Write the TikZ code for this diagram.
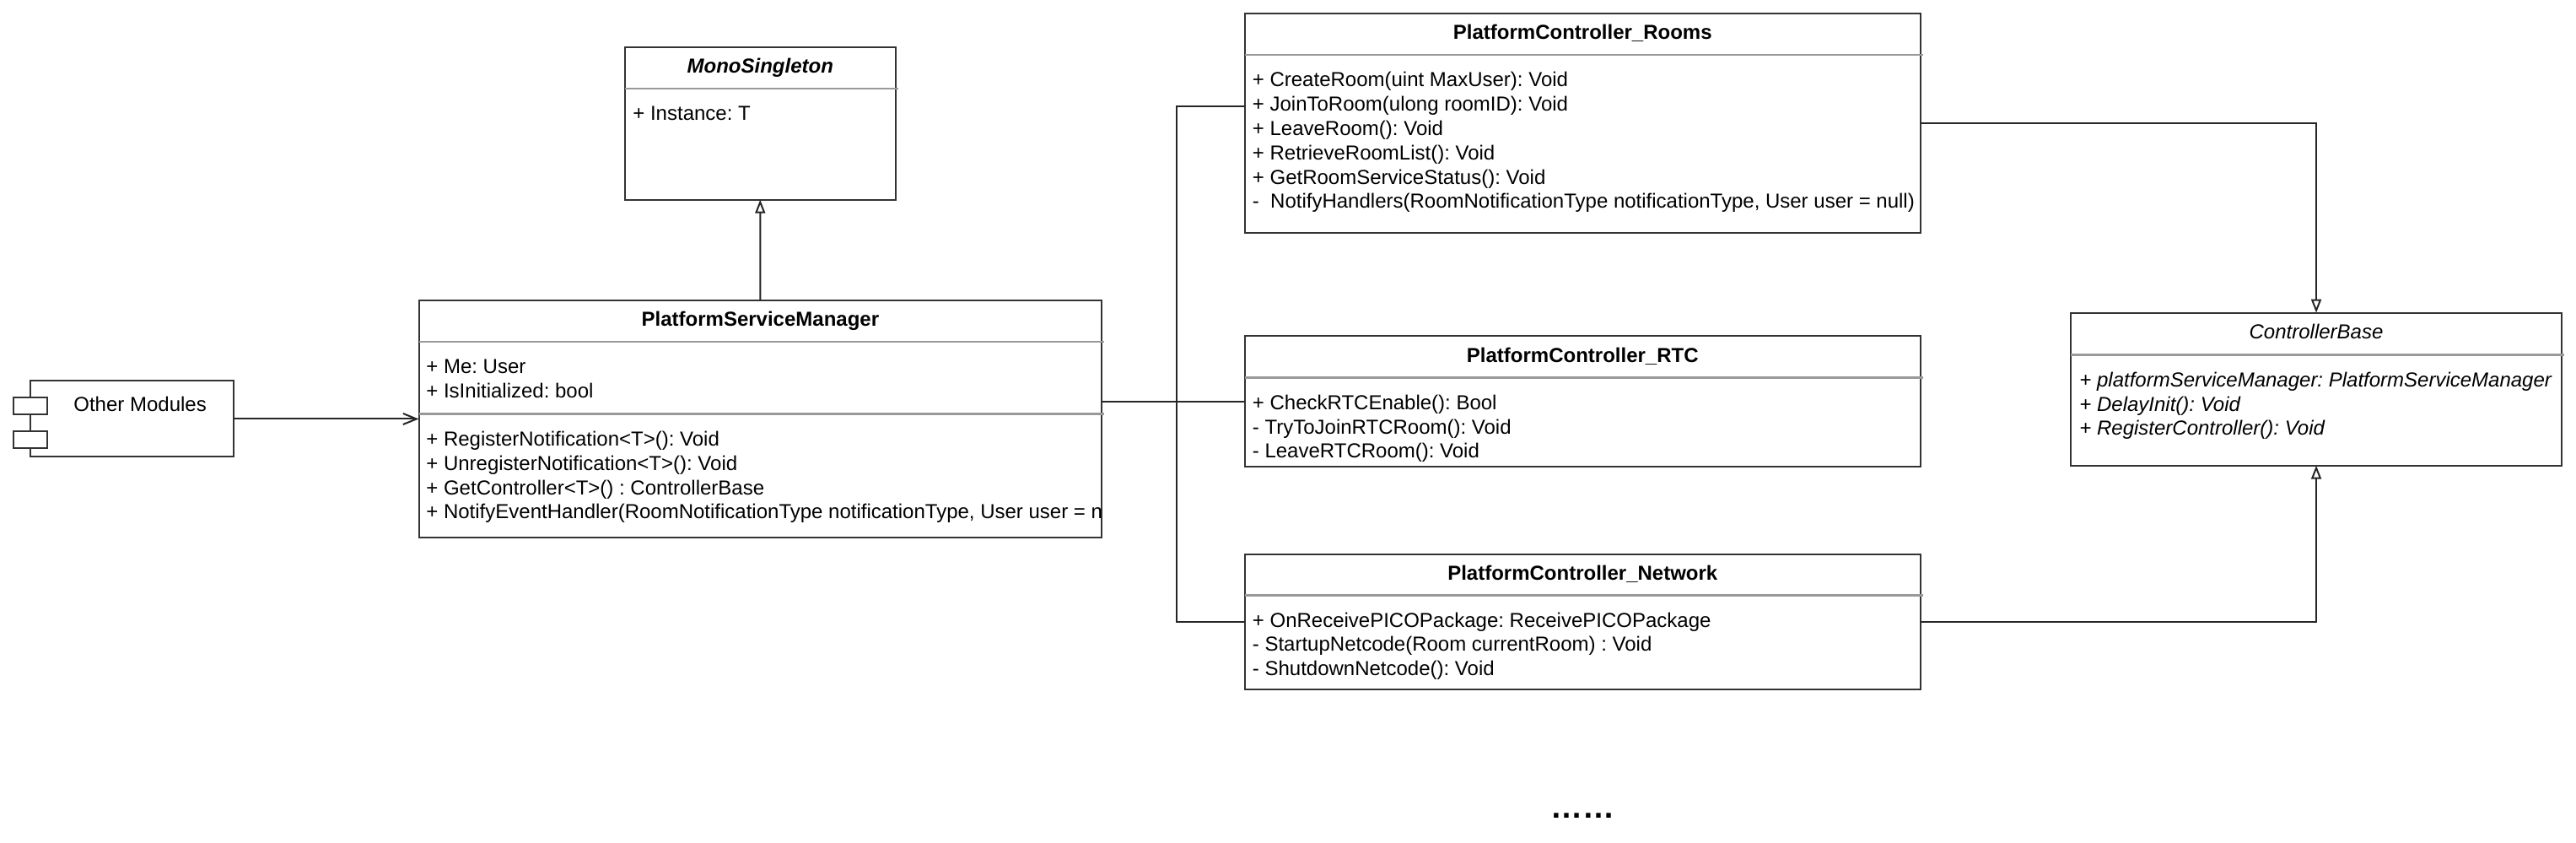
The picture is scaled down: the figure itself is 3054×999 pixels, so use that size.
\documentclass[tikz,border=0pt]{standalone}
\usepackage{fontspec}
\setmainfont{Liberation Sans}
\usetikzlibrary{arrows.meta,fit,calc}
\AtBeginDocument{\frenchspacing}
\begin{document}
\begin{tikzpicture}[x=0.5pt,y=-0.5pt,
  box/.style={draw=black!80, line width=1pt, fill=white, inner sep=0pt, outer sep=0pt},
  sepline/.style={draw=black!40, line width=1.3pt},
  ttl/.style={anchor=base, inner sep=0pt, font=\fontsize{12}{14.4}\selectfont\frenchspacing\bfseries},
  ttlbi/.style={anchor=base, inner sep=0pt, font=\fontsize{12}{14.4}\selectfont\frenchspacing\bfseries\itshape},
  ttli/.style={anchor=base, inner sep=0pt, font=\fontsize{12}{14.4}\selectfont\frenchspacing\itshape},
  itm/.style={anchor=base west, inner sep=0pt, font=\fontsize{12}{14.4}\selectfont\frenchspacing},
  itmi/.style={anchor=base west, inner sep=0pt, font=\fontsize{12}{14.4}\selectfont\frenchspacing\itshape},
  conn/.style={draw=black!85, line width=1pt},
  inh/.style={conn, -{Triangle[open, length=8pt, width=6pt, fill=white]}},
  dep/.style={conn, -{Straight Barb[length=8pt, width=6.5pt]}},
]
\useasboundingbox[fill=white] (0,0) rectangle (3054,999);

% ---------- MonoSingleton ----------
\node[box, fit={(741,56) (1061.5,236.7)}] (mono) {};
\draw[sepline] (741,105) -- (1064.5,105);
\node[ttlbi] (monot) at (901.25,87) {MonoSingleton};
\node[itm] (monoa) at (750,143) {+ Instance: T};

% ---------- PlatformServiceManager ----------
\node[box, fit={(496.5,356) (1306.3,636.7)}] (psm) {};
\draw[sepline] (496.5,405) -- (1309.3,405);
\draw[sepline] (496.5,490.5) -- (1309.3,490.5);
\node[ttl] (psmt) at (901.4,387) {PlatformServiceManager};
\node[itm] (psma) at (505,443) {+ Me: User};
\node[itm] (psmb) at (505,471.8) {+ IsInitialized: bool};
\node[itm] (psmc) at (505,528.6) {+ RegisterNotification<T>(): Void};
\node[itm] (psmd) at (505,557.4) {+ UnregisterNotification<T>(): Void};
\node[itm] (psme) at (505,586.2) {+ GetController<T>() : ControllerBase};
\begin{scope}
  \clip (496.5,590) rectangle (1305.8,636);
  \node[itm] (psmf) at (505,615) {+ NotifyEventHandler(RoomNotificationType notificationType, User user = null)};
\end{scope}

% ---------- Other Modules ----------
\node[box, fit={(36,451.5) (276.5,541.5)}] (other) {};
\node[box, fit={(16,471.5) (56,491)}] (othera) {};
\node[box, fit={(16,511.5) (56,531)}] (otherb) {};
\node[itm] (otherl) at (87,488) {Other Modules};

% ---------- PlatformController_Rooms ----------
\node[box, fit={(1476,16) (2276.6,276)}] (rooms) {};
\draw[sepline] (1476,65) -- (2279.6,65);
\node[ttl] (roomst) at (1876.3,47) {PlatformController\_Rooms};
\node[itm] (roomsa) at (1484.5,103) {+ CreateRoom(uint MaxUser): Void};
\node[itm] (roomsb) at (1484.5,131.8) {+ JoinToRoom(ulong roomID): Void};
\node[itm] (roomsc) at (1484.5,160.6) {+ LeaveRoom(): Void};
\node[itm] (roomsd) at (1484.5,189.4) {+ RetrieveRoomList(): Void};
\node[itm] (roomse) at (1484.5,218.2) {+ GetRoomServiceStatus(): Void};
\node[itm] (roomsf) at (1484.5,247) {-\ \ NotifyHandlers(RoomNotificationType notificationType, User user = null)};

% ---------- PlatformController_RTC ----------
\node[box, fit={(1476,398.3) (2276.6,553.3)}] (rtc) {};
\draw[sepline] (1476,447.3) -- (2279.6,447.3);
\node[ttl] (rtct) at (1876.3,429.3) {PlatformController\_RTC};
\node[itm] (rtca) at (1484.5,485.3) {+ CheckRTCEnable(): Bool};
\node[itm] (rtcb) at (1484.5,514.1) {- TryToJoinRTCRoom(): Void};
\node[itm] (rtcc) at (1484.5,542.9) {- LeaveRTCRoom(): Void};

% ---------- PlatformController_Network ----------
\node[box, fit={(1476,656.7) (2276.6,816.7)}] (network) {};
\draw[sepline] (1476,705.7) -- (2279.6,705.7);
\node[ttl] (networkt) at (1876.3,687.7) {PlatformController\_Network};
\node[itm] (networka) at (1484.5,743.2) {+ OnReceivePICOPackage: ReceivePICOPackage};
\node[itm] (networkb) at (1484.5,772) {- StartupNetcode(Room currentRoom) : Void};
\node[itm] (networkc) at (1484.5,800.8) {- ShutdownNetcode(): Void};

% ---------- ControllerBase ----------
\node[box, fit={(2455.4,370.7) (3036.7,551.7)}] (cb) {};
\draw[sepline] (2455.4,420.5) -- (3039.7,420.5);
\node[ttli] (cbt) at (2746,402) {ControllerBase};
\node[itmi] (cba) at (2465,458.2) {+ platformServiceManager: PlatformServiceManager};
\node[itmi] (cbb) at (2465,487.5) {+ DelayInit(): Void};
\node[itmi] (cbc) at (2465,515.6) {+ RegisterController(): Void};

% ---------- dots ----------
\node[anchor=base, inner sep=0pt, font=\fontsize{19}{19}\selectfont\bfseries] (dots) at (1876,969.5) {……};

% ---------- connectors ----------
\coordinate (bus) at (1395,476);
\coordinate (roomsin) at ($(rooms.north west)+(0,110)$);
\draw[inh] (psm.north) -- (mono.south);
\draw[dep] (other.east) -- (other.east -| psm.west);
\draw[conn] (psm.east |- rtc.west) -- (rtc.west);
\draw[conn] (psm.east |- bus) -- (bus) |- (roomsin);
\draw[conn] (bus) |- (network.west);
\draw[inh] (rooms.east) -| (cb.north);
\draw[inh] (network.east) -| (cb.south);
\end{tikzpicture}
\end{document}
